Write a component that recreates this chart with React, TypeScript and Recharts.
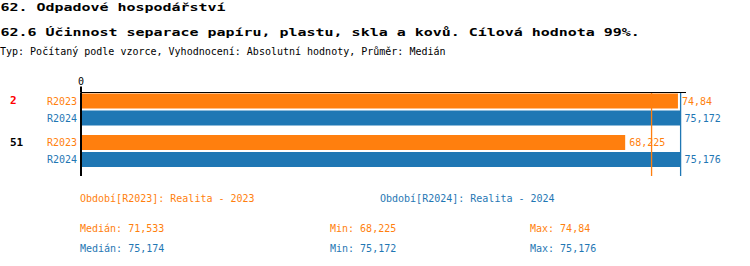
import React from 'react';
import { BarChart, Bar, XAxis, YAxis, LabelList, ReferenceLine } from 'recharts';

const FONT = '"DejaVu Sans Mono", "Liberation Mono", monospace';
const ORANGE = '#ff7f0e';
const BLUE = '#1f77b4';

const categories = ['2', '51'];
const categoryColors = ['#ff0000', '#000000'];
const seriesKeys = ['R2023', 'R2024'];
const seriesNames = ['Realita - 2023', 'Realita - 2024'];
const seriesColors = [ORANGE, BLUE];
const r2023 = [74.84, 68.225];
const r2024 = [75.172, 75.176];
const medians = [71.533, 75.174];
const xTicks = [0];
const xMax = 75.85;

const titleLine1 = '62. Odpadové hospodářství';
const titleLine2 = '62.6 Účinnost separace papíru, plastu, skla a kovů. Cílová hodnota 99%.';
const subtitle = 'Typ: Počítaný podle vzorce, Vyhodnocení: Absolutní hodnoty, Průměr: Medián';

const data = categories.map((c, i) => ({ category: c, R2023: r2023[i], R2024: r2024[i] }));
const seriesValues = [r2023, r2024];

const fmt = (v: number) => String(v).replace('.', ',');

const BAR_SIZE = 15;
const BAR_GAP = 2;

const CategoryTick = (props: any) => {
  const { y, payload, index } = props;
  const idx = categories.indexOf(String(payload.value));
  return (
    <text
      x={10}
      y={y - (BAR_SIZE + BAR_GAP) / 2}
      dominantBaseline="central"
      fontFamily={FONT}
      fontSize={11}
      fontWeight="bold"
      fill={categoryColors[idx >= 0 ? idx : index] || '#000'}
    >
      {payload.value}
    </text>
  );
};

const makeSeriesLabel = (name: string, color: string) => (props: any) => {
  const x = props.x ?? props.viewBox?.x;
  const y = props.y ?? props.viewBox?.y;
  const h = props.height ?? props.viewBox?.height;
  return (
    <text
      x={x - 4}
      y={y + h / 2}
      textAnchor="end"
      dominantBaseline="central"
      fontFamily={FONT}
      fontSize={10}
      fill={color}
    >
      {name}
    </text>
  );
};

const makeValueLabel = (color: string) => (props: any) => {
  const x = props.x ?? props.viewBox?.x;
  const y = props.y ?? props.viewBox?.y;
  const w = props.width ?? props.viewBox?.width;
  const h = props.height ?? props.viewBox?.height;
  return (
    <text
      x={x + w + 4}
      y={y + h / 2}
      dominantBaseline="central"
      fontFamily={FONT}
      fontSize={10}
      fill={color}
    >
      {fmt(props.value)}
    </text>
  );
};

const TitleText = ({ y, text }: { y: number; text: string }) => (
  <text
    transform={`translate(0.5, ${y}) scale(1.36, 1)`}
    fontFamily={FONT}
    fontSize={11}
    fontWeight="bold"
    fill="#000"
  >
    {text}
  </text>
);

const SmallText = ({ x, y, text, color }: { x: number; y: number; text: string; color: string }) => (
  <text x={x} y={y} fontFamily={FONT} fontSize={10} fill={color}>
    {text}
  </text>
);

export default function App() {
  const legendX = [80, 380];
  const statX = [80, 330, 530];
  const statY = [232, 252];
  return (
    <div style={{ position: 'absolute', left: 0, top: 0, width: 750, height: 266, background: '#fff' }}>
      <BarChart
        layout="vertical"
        width={750}
        height={266}
        data={data}
        margin={{ top: 72.5, right: 64, bottom: 90, left: 21 }}
        barSize={BAR_SIZE}
        barGap={BAR_GAP}
        style={{ position: 'absolute', left: 0, top: 0 }}
      >
        <XAxis
          type="number"
          orientation="top"
          domain={[0, xMax]}
          ticks={xTicks}
          height={20}
          tickSize={6}
          axisLine={{ stroke: '#000', strokeWidth: 1 }}
          tickLine={{ stroke: '#000', strokeWidth: 2 }}
          tick={{ fontSize: 10, fill: '#000', fontFamily: FONT }}
          allowDataOverflow
        />
        <YAxis
          type="category"
          dataKey="category"
          width={60}
          padding={{ top: -4, bottom: 4.5 }}
          axisLine={{ stroke: '#000', strokeWidth: 2 }}
          tickLine={false}
          tick={<CategoryTick />}
        />
        {medians.map((m, i) => (
          <ReferenceLine
            key={'m' + i}
            x={m}
            stroke={seriesColors[i]}
            strokeOpacity={1}
            strokeWidth={1.3}
            style={{ stroke: seriesColors[i] }}
          />
        ))}
        {seriesKeys.map((k, i) => (
          <Bar key={k} dataKey={k} fill={seriesColors[i]} isAnimationActive={false}>
            <LabelList dataKey={k} content={makeValueLabel(seriesColors[i])} />
            <LabelList dataKey={k} content={makeSeriesLabel(k, seriesColors[i])} />
          </Bar>
        ))}
      </BarChart>
      <svg
        width={750}
        height={266}
        style={{ position: 'absolute', left: 0, top: 0, pointerEvents: 'none' }}
      >
        <TitleText y={11} text={titleLine1} />
        <TitleText y={35.5} text={titleLine2} />
        <SmallText x={0} y={55} text={subtitle} color="#000" />
        {seriesKeys.map((k, i) => (
          <SmallText key={'lg' + k} x={legendX[i]} y={202} text={`Období[${k}]: ${seriesNames[i]}`} color={seriesColors[i]} />
        ))}
        {seriesKeys.map((k, i) => {
          const vals = seriesValues[i];
          return (
            <g key={'st' + k}>
              <SmallText x={statX[0]} y={statY[i]} text={`Medián: ${fmt(medians[i])}`} color={seriesColors[i]} />
              <SmallText x={statX[1]} y={statY[i]} text={`Min: ${fmt(Math.min(...vals))}`} color={seriesColors[i]} />
              <SmallText x={statX[2]} y={statY[i]} text={`Max: ${fmt(Math.max(...vals))}`} color={seriesColors[i]} />
            </g>
          );
        })}
      </svg>
    </div>
  );
}
